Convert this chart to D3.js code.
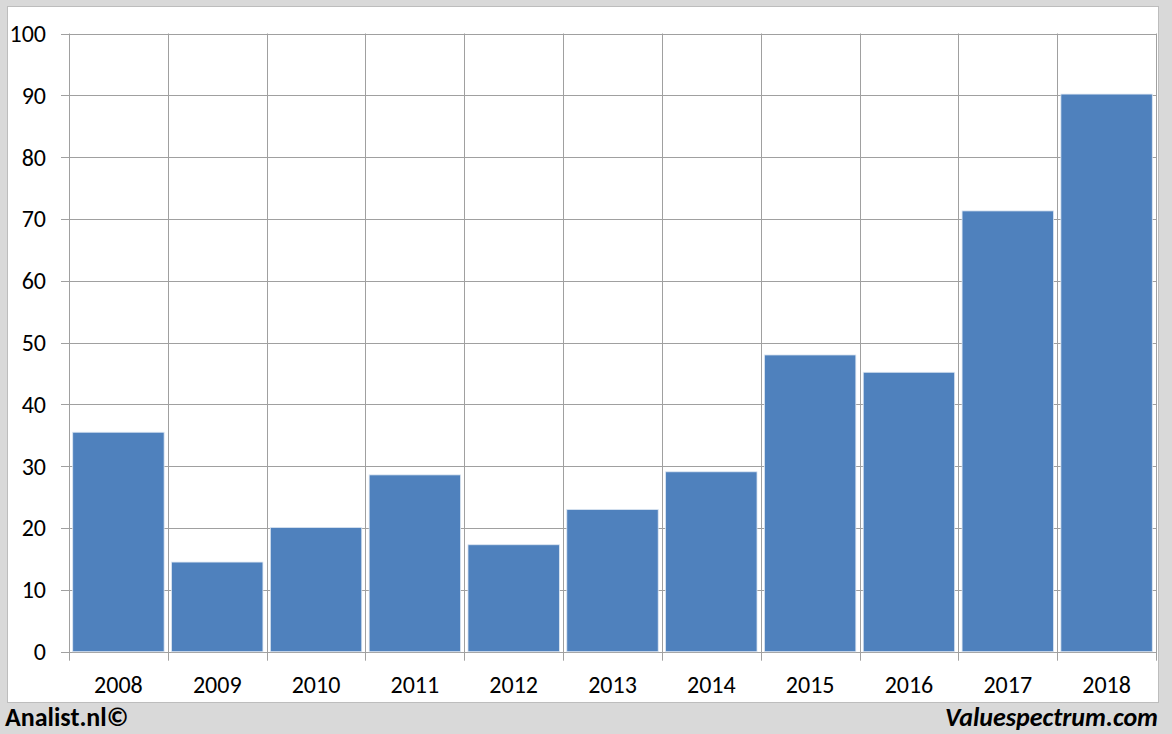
<!DOCTYPE html>
<html><head><meta charset="utf-8">
<script src="https://cdn.jsdelivr.net/npm/d3@7"></script>
<style>body{margin:0;background:#d9d9d9;} svg{display:block;}</style>
</head><body>
<svg id="c" width="1172" height="734"></svg>
<script>
const categories = ["2008","2009","2010","2011","2012","2013","2014","2015","2016","2017","2018"];
const values = [35.5, 14.5, 20.1, 28.6, 17.3, 23.0, 29.1, 48.0, 45.2, 71.3, 90.2];
const yTicks = [0,10,20,30,40,50,60,70,80,90,100];

const svg = d3.select("#c");
const font = "Carlito, Lato, 'Liberation Sans', sans-serif";
svg.append("rect").attr("x",0).attr("y",0).attr("width",1172).attr("height",734).attr("fill","#d9d9d9");
svg.append("rect").attr("x",7.5).attr("y",6.5).attr("width",1151).attr("height",696)
  .attr("fill","#fff").attr("stroke","#bdbdbd").attr("stroke-width",1);

const L=69, R=1156, T=33.5, B=651.7;
const x = d3.scaleBand().domain(categories).range([L,R]).paddingInner(0.075).paddingOuter(0.0375);
const xb = d3.scaleBand().domain(categories).range([L,R]).padding(0);
const y = d3.scaleLinear().domain([0,100]).range([B,T]);
const grid = "#a0a0a0";

svg.append("g").selectAll("line").data(yTicks).join("line")
  .attr("x1",L-8).attr("x2",R).attr("y1",d=>Math.round(y(d))+0.5).attr("y2",d=>Math.round(y(d))+0.5)
  .attr("stroke",grid).attr("stroke-width",1);
const bounds = categories.map(c=>xb(c)).concat([R]);
svg.append("g").selectAll("line").data(bounds).join("line")
  .attr("x1",d=>Math.round(d)+0.5).attr("x2",d=>Math.round(d)+0.5)
  .attr("y1",T).attr("y2",B+9).attr("stroke",grid).attr("stroke-width",1);

svg.append("g").selectAll("rect").data(values).join("rect")
  .attr("x",(d,i)=>x(categories[i])).attr("width",x.bandwidth())
  .attr("y",d=>y(d)).attr("height",d=>B-y(d))
  .attr("fill","#4f81bd").attr("stroke","#dce6f2").attr("stroke-width",0.8);

svg.append("g").selectAll("text").data(yTicks).join("text")
  .attr("x",46).attr("y",d=>y(d)).attr("dy","0.35em").attr("text-anchor","end")
  .attr("font-family",font).attr("font-size",24).attr("fill","#000").text(d=>d);
svg.append("g").selectAll("text").data(categories).join("text")
  .attr("x",d=>xb(d)+xb.bandwidth()/2).attr("y",693).attr("text-anchor","middle")
  .attr("font-family",font).attr("font-size",24).attr("fill","#000").text(d=>d);

svg.append("text").attr("x",5).attr("y",726).attr("font-family",font).attr("font-weight","bold")
  .attr("font-size",26).attr("fill","#000").text("Analist.nl©");
svg.append("text").attr("x",1158).attr("y",726).attr("text-anchor","end").attr("font-family",font)
  .attr("font-weight","bold").attr("font-style","italic").attr("font-size",26).attr("fill","#000").text("Valuespectrum.com");
</script>
</body></html>
